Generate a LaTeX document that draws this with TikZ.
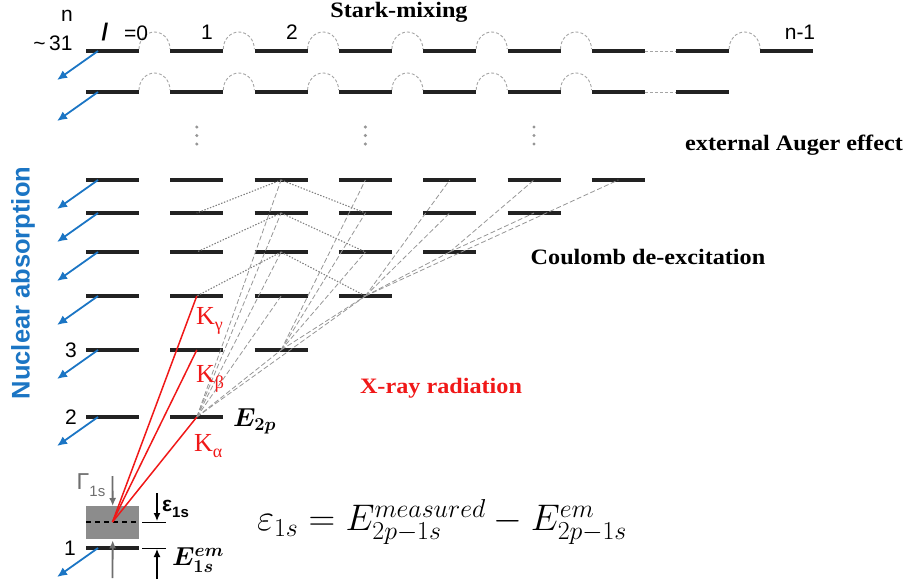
\RequirePackage{fix-cm}
\documentclass[tikz,border=0pt]{standalone}
\usepackage{amsmath,bm}
\usepackage{fontspec}
\setmainfont{Liberation Serif}
\setsansfont{Liberation Sans}
\newfontfamily\labserif[FakeStretch=1.1]{Liberation Serif}
\usetikzlibrary{arrows.meta}
\definecolor{barc}{RGB}{34,34,34}
\definecolor{nucblue}{RGB}{27,117,196}
\definecolor{arcgray}{RGB}{165,165,165}
\definecolor{lgray}{RGB}{150,150,150}
\definecolor{kred}{RGB}{240,24,24}
\definecolor{boxgray}{RGB}{140,140,140}
\definecolor{agray}{RGB}{110,110,110}
\begin{document}
\begin{tikzpicture}[x=1pt,y=-1pt,
  lev/.style={line width=4pt, draw=barc},
  nuc/.style={draw=nucblue, line width=1.8pt, -{Latex[length=10pt,width=9pt]}},
  stark/.style={draw=arcgray, line width=0.9pt, dash pattern=on 3pt off 2pt},
  coul/.style={draw=gray, line width=1.1pt, dash pattern=on 1.4pt off 1.6pt},
  xray/.style={draw=lgray, line width=0.8pt, dash pattern=on 5pt off 2.5pt},
  kline/.style={draw=kred, line width=1.5pt},
  lab/.style={font=\sffamily\fontsize{21}{24}\selectfont, inner sep=0pt},
  proc/.style={font=\labserif\bfseries\fontsize{22}{24}\selectfont, inner sep=0pt},
  klab/.style={font=\fontsize{26}{28}\selectfont, text=kred, inner sep=0pt, anchor=west},
  garrow/.style={draw=agray, line width=1.8pt, -{Latex[length=8pt,width=7pt]}},
  barrow/.style={draw=black, line width=1.3pt, -{Latex[length=8pt,width=7pt]}},
]
\useasboundingbox (0,0) rectangle (906,584);

% level coordinates and bars
\foreach \nm/\yy/\nmax in {a/51/8, b/92/7, 7/180/6, 6/213/5, 5/252/4, 4/296/3, 3/350/2, 2/417/1, 1/548/0} {
  \foreach \k in {0,...,\nmax} {
    \coordinate (c-\nm-\k) at ({112.5+84.3*\k}, \yy);
    \draw[lev] ([xshift=-26.5pt]c-\nm-\k) -- ([xshift=26.5pt]c-\nm-\k);
  }
}

% Stark-mixing arcs
\foreach \k in {0,...,5,7} {
  \draw[stark] ([xshift=26.5pt,yshift=2pt]c-a-\k) arc[start angle=180,end angle=0,x radius=15.5pt,y radius=17pt];
}
\foreach \k in {0,...,5} {
  \draw[stark] ([xshift=26.5pt,yshift=2pt]c-b-\k) arc[start angle=180,end angle=0,x radius=15.5pt,y radius=17pt];
}
\draw[stark] ([xshift=26.5pt]c-a-6) -- ([xshift=-26.5pt]c-a-7);
\draw[stark] ([xshift=26.5pt]c-b-6) -- ([xshift=-26.5pt]c-b-7);

% vertical dots
\foreach \k in {1,3,5} {
  \foreach \dy in {127,135.5,144} {
    \fill[lgray] ({112.5+84.3*\k},\dy) circle[radius=1.7pt];
  }
}

% nuclear absorption arrows
\foreach \nm in {a,b,7,6,5,4,3,2,1} {
  \draw[nuc] ([xshift=-14.5pt]c-\nm-0) -- ++(-41,29);
}

% Coulomb de-excitation (dotted)
\draw[coul] (c-7-2) -- (c-6-1);
\draw[coul] (c-7-2) -- (c-6-3);
\draw[coul] (c-6-2) -- (c-5-1);
\draw[coul] (c-6-2) -- (c-5-3);
\draw[coul] (c-5-2) -- (c-4-1);
\draw[coul] (c-5-2) -- (c-4-3);

% radiative transitions (dashed)
\foreach \s in {c-3-2,c-4-2,c-5-2,c-6-2,c-7-2,c-4-3} {\draw[xray] (c-2-1) -- (\s);}
\foreach \s in {c-4-3,c-5-3,c-6-3,c-7-3} {\draw[xray] (c-3-2) -- (\s);}
\foreach \s in {c-5-4,c-6-4,c-7-4,c-7-6} {\draw[xray] (c-4-3) -- (\s);}
\foreach \s in {c-6-5,c-7-5} {\draw[xray] (c-5-4) -- (\s);}

% 1s box
\node[fill=boxgray, minimum width=53pt, minimum height=33pt, inner sep=0pt, anchor=north west] (gbox) at (86,506) {};
\coordinate (gs) at (112.5,522);
\draw[black, line width=1.5pt, dash pattern=on 5pt off 4pt] (86,522) -- (139,522);
\draw[black, line width=1pt] (142,522) -- (166,522);
\draw[black, line width=1pt] (142,548) -- (166,548);

% K lines
\draw[kline] (gs) -- (c-4-1);
\draw[kline] (gs) -- (c-3-1);
\draw[kline] (gs) -- (c-2-1);
\node[klab] (kg) at (196,321) {K\raisebox{-0.25em}{\fontsize{18}{18}\selectfont γ}};
\node[klab] (kb) at (196,379) {K\raisebox{-0.25em}{\fontsize{18}{18}\selectfont β}};
\node[klab] (ka) at (194,446) {K\raisebox{-0.25em}{\fontsize{18}{18}\selectfont α}};

% width arrows
\coordinate (gtop) at (112.5,476);
\coordinate (gbot) at (112.5,578);
\draw[garrow] (gtop) -- (gbox.north);
\draw[garrow] (gbot) -- ([yshift=-1pt]gbox.south);
\coordinate (etop) at (157,493);
\coordinate (eto) at (157,521);
\coordinate (ebot) at (157,579);
\coordinate (ebo) at (157,549);
\draw[barrow] (etop) -- (eto);
\draw[barrow] (ebot) -- (ebo);

% labels
\node[font=\sffamily\fontsize{23}{24}\selectfont, text=agray, inner sep=0pt] (gam) at (91,485) {Γ\raisebox{-0.3em}{\fontsize{15}{15}\selectfont 1s}};
\node[font=\sffamily\bfseries\fontsize{21}{22}\selectfont, inner sep=0pt, anchor=west] (eps) at (162,509) {ε\raisebox{-0.3em}{\fontsize{15}{15}\selectfont 1s}};
\node[font=\fontsize{26}{28}\selectfont, inner sep=0pt, anchor=west] (eem) at (172,560) {$\bm{E^{em}_{1s}}$};
\node[font=\fontsize{26}{28}\selectfont, inner sep=0pt, anchor=west] (e2p) at (233,421) {$\bm{E_{2p}}$};
\node[font=\fontsize{37}{40}\selectfont, inner sep=0pt] (eq) at (442,522) {$\varepsilon_{1s}=E^{measured}_{2p-1s}-E^{em}_{2p-1s}$};

\node[lab] (ln) at (67,16) {n};
\node[lab] (l31) at (53,43) {\textasciitilde\,31};
\node[font=\sffamily\bfseries\fontsize{24}{26}\selectfont, inner sep=0pt] (lsl) at (105,32) {/};
\node[lab] (l0) at (136,33) {=0};
\node[lab] (l1) at (207,32) {1};
\node[lab] (l2) at (292,32) {2};
\node[lab] (lnm) at (800,32) {n-1};
\node[lab] (n3) at (71,350) {3};
\node[lab] (n2) at (71,417) {2};
\node[lab] (n1) at (70,548) {1};

\node[proc] (stark) at (399,12) {Stark-mixing};
\node[proc] (auger) at (794,145) {external Auger effect};
\node[proc] (coulomb) at (648,257) {Coulomb de-excitation};
\node[proc, text=kred] (xr) at (441,388) {X-ray radiation};
\node[font=\sffamily\bfseries\fontsize{25.5}{28}\selectfont, text=nucblue, inner sep=0pt, rotate=90] (nabs) at (23,283) {Nuclear absorption};
\end{tikzpicture}
\end{document}
